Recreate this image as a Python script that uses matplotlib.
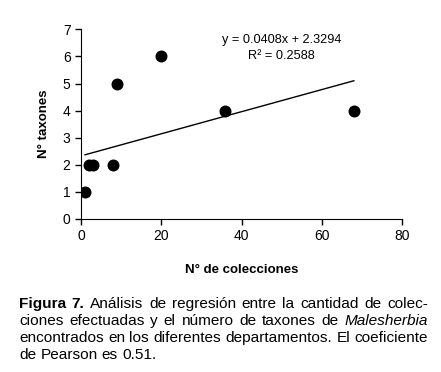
import matplotlib
matplotlib.use("Agg")
import matplotlib.pyplot as plt
import numpy as np

plt.rcParams['font.family'] = ['Liberation Sans', 'DejaVu Sans']

# data
colecciones = [1, 2, 3, 8, 9, 20, 36, 68]
taxones = [1, 2, 2, 2, 5, 6, 4, 4]
slope, intercept = 0.0408, 2.3294
r2 = 0.2588

caption_lines = [
    [("Figura 7.", "bold"), (" Análisis de regresión entre la cantidad de colec-", "normal")],
    [("ciones efectuadas y el número de taxones de ", "normal"), ("Malesherbia", "italic")],
    [("encontrados en los diferentes departamentos. El coeficiente", "normal")],
    [("de Pearson es 0.51.", "normal")],
]

fig = plt.figure(figsize=(4.41, 3.72), dpi=100)
ax = fig.add_axes([0.1837, 0.4113, 0.7279, 0.5097])

ax.scatter(colecciones, taxones, s=58, color='black', zorder=3)
xl = np.array([min(colecciones), max(colecciones)])
ax.plot(xl, slope * xl + intercept, color='black', lw=1)

ax.set_xlim(0, 80)
ax.set_ylim(0, 7)
ax.set_xticks([0, 20, 40, 60, 80])
ax.set_yticks(range(8))
ax.spines['top'].set_visible(False)
ax.spines['right'].set_visible(False)
ax.tick_params(labelsize=10, length=4, width=1)
ax.set_xlabel("N° de colecciones", fontsize=9.5, fontweight='bold', labelpad=15)
ax.set_ylabel("N° taxones", fontsize=9.5, fontweight='bold', labelpad=9)

ax.text(50, 6.32, "y = {:.4f}x + {:.4f}\nR² = {:.4f}".format(slope, intercept, r2),
        ha='center', va='center', fontsize=9.2, linespacing=1.4)

# caption, justified except for the last line
fig.canvas.draw()
renderer = fig.canvas.get_renderer()
x0, x1 = 19, 428
ys = [304, 321, 338, 355]


def width_of(s, **kw):
    t = fig.text(0, 0, s, **kw)
    w = t.get_window_extent(renderer).width
    t.remove()
    return w


# pick a font size so the third line fills the width with plain spaces
fs = 10.0 * (x1 - x0) / width_of(caption_lines[2][0][0], fontsize=10.0)
space = width_of("a a", fontsize=fs) - width_of("aa", fontsize=fs)

for i, (line, y) in enumerate(zip(caption_lines, ys)):
    words = []
    for txt, style in line:
        for p in txt.split(" "):
            if p:
                words.append((p, style))
    arts = []
    for w, style in words:
        kw = dict(fontsize=fs, va='center', ha='left')
        if style == "bold":
            kw['fontweight'] = 'bold'
        if style == "italic":
            kw['fontstyle'] = 'italic'
        arts.append(fig.text(0, 1 - y / 372, w, **kw))
    widths = [a.get_window_extent(renderer).width for a in arts]
    if i < len(caption_lines) - 1 and len(words) > 1:
        gap = (x1 - x0 - sum(widths)) / (len(words) - 1)
    else:
        gap = space
    x = x0
    for a, w in zip(arts, widths):
        a.set_x(x / 441)
        x += w + gap

fig.savefig("out.png", dpi=100)
